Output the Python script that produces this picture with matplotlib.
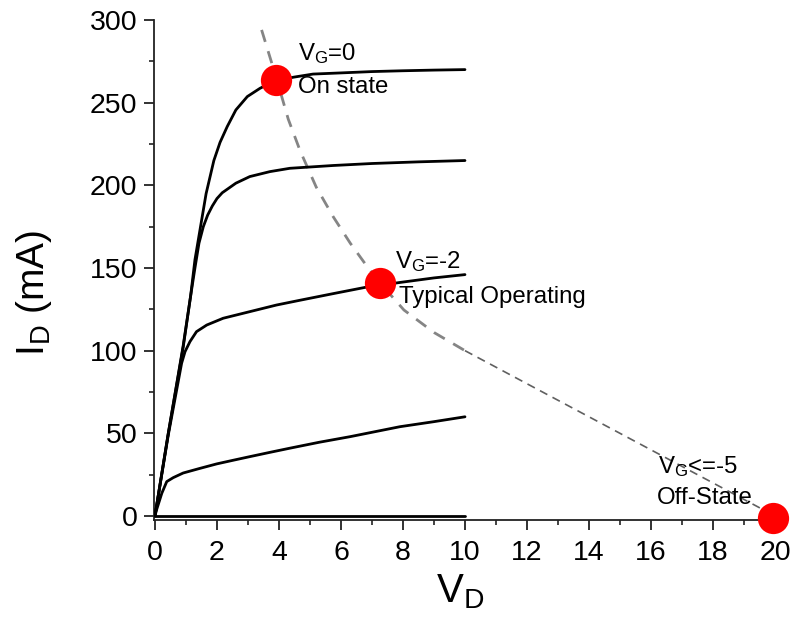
import matplotlib
matplotlib.use("Agg")
import matplotlib.pyplot as plt
from matplotlib.ticker import MultipleLocator

plt.rcParams['font.family'] = ['Liberation Sans', 'DejaVu Sans']
plt.rcParams['mathtext.fontset'] = 'custom'
plt.rcParams['mathtext.rm'] = 'Liberation Sans'
plt.rcParams['mathtext.it'] = 'Liberation Sans'

# I-V curves (V_D in V, I_D in mA)
vd_1 = [0, 0.43, 0.91, 1.15, 1.29, 1.47, 1.65, 1.90, 2.10, 2.33, 2.61, 2.98, 3.39, 3.9, 4.5, 5.1, 6, 7, 8, 9, 10]
id_1 = [0, 50, 103, 133, 155, 175, 195, 215, 226, 235.5, 245.6, 253.7, 258.7, 263.5, 265.5, 267.3, 268, 268.8, 269.3, 269.7, 270]

vd_2 = [0, 0.43, 0.91, 1.15, 1.29, 1.42, 1.56, 1.70, 1.85, 2.0, 2.17, 2.61, 3.06, 3.71, 4.35, 5.75, 7, 8.5, 10]
id_2 = [0, 50, 102, 133, 150, 165, 175, 182, 187.5, 192, 195.5, 201.3, 205.3, 208.3, 210.3, 212, 213.2, 214.2, 215]

vd_3 = [0, 0.43, 0.86, 0.97, 1.13, 1.34, 1.67, 2.2, 3.06, 3.92, 4.68, 5.75, 6.84, 8.0, 9.0, 10]
id_3 = [0, 49, 92.4, 99.4, 105.5, 111.5, 115.5, 119.6, 123.6, 127.6, 130.5, 134.5, 138.5, 141.5, 144, 146]

vd_4 = [0, 0.05, 0.22, 0.38, 0.59, 0.91, 1.45, 1.99, 2.52, 3.06, 3.71, 4.35, 5.3, 6.3, 7.1, 7.9, 8.98, 10]
id_4 = [0, 3.6, 13.7, 20.8, 23.2, 26, 28.8, 31.5, 33.7, 35.9, 38.5, 41, 44.6, 48, 51, 54, 57, 60]

vd_5 = [0, 10]
id_5 = [0, 0]

# load curve
load_v1 = [3.44, 3.93, 4.3, 4.68, 5.2, 5.75, 6.3, 6.84, 7.26, 8.03, 9.0, 10]
load_i1 = [294, 264, 240, 221, 199, 181, 165, 151, 141, 124.6, 111, 100]
load_v2 = [10, 20]
load_i2 = [100, 0]

# operating points
pt_v = [3.9, 7.26, 19.95]
pt_i = [263.8, 141, -1]

fig = plt.figure(figsize=(7.96, 6.25), dpi=100)
ax = fig.add_axes([0.1935, 0.1678, 0.7918, 0.8002])

for v, i in [(vd_1, id_1), (vd_2, id_2), (vd_3, id_3), (vd_4, id_4), (vd_5, id_5)]:
    ax.plot(v, i, color='black', lw=2.0, solid_capstyle='round', solid_joinstyle='round', zorder=3)

ax.plot(load_v1, load_i1, color='#858585', lw=2.0, dashes=(4.5, 3.5), zorder=2)
ax.plot(load_v2, load_i2, color='#606060', lw=1.2, dashes=(5, 3.5), zorder=2)

ax.plot(pt_v, pt_i, 'o', color='#ff0000', ms=22.5, mec='none', clip_on=False, zorder=5)

tfs = 17.3
ax.text(4.61, 276, r'$\mathrm{V_G}$=0', fontsize=tfs, va='baseline', ha='left')
ax.text(4.61, 255.7, 'On state', fontsize=tfs, va='baseline', ha='left')
ax.text(7.74, 149.8, r'$\mathrm{V_G}$=-2', fontsize=tfs, va='baseline', ha='left')
ax.text(7.88, 129, 'Typical Operating', fontsize=tfs, va='baseline', ha='left')
ax.text(16.24, 25.8, r'$\mathrm{V_G}$<=-5', fontsize=tfs, va='baseline', ha='left')
ax.text(16.2, 7.3, 'Off-State', fontsize=tfs, va='baseline', ha='left')

ax.set_xlim(-0.03, 20.3)
ax.set_ylim(-2.5, 300)
ax.xaxis.set_major_locator(MultipleLocator(2))
ax.xaxis.set_minor_locator(MultipleLocator(1))
ax.yaxis.set_major_locator(MultipleLocator(50))
ax.yaxis.set_minor_locator(MultipleLocator(25))

for s in ['top', 'right']:
    ax.spines[s].set_visible(False)
for s in ['left', 'bottom']:
    ax.spines[s].set_linewidth(1.3)
    ax.spines[s].set_color('#222222')

ax.tick_params(which='major', direction='out', length=7, width=1.3, colors='#222222',
               labelsize=20.5, labelcolor='black')
ax.tick_params(which='minor', direction='out', length=3.8, width=1.2, colors='#222222')
ax.tick_params(axis='x', which='major', pad=7)
ax.tick_params(axis='y', which='major', pad=5)

ax.set_ylabel(r'$\mathrm{I_D}$ (mA)', fontsize=28)
ax.yaxis.set_label_coords(-0.158, 0.454)
ax.set_xlabel(r'$\mathrm{V_D}$', fontsize=29)
ax.xaxis.set_label_coords(0.4855, -0.104)

fig.savefig('out.png', dpi=100)
